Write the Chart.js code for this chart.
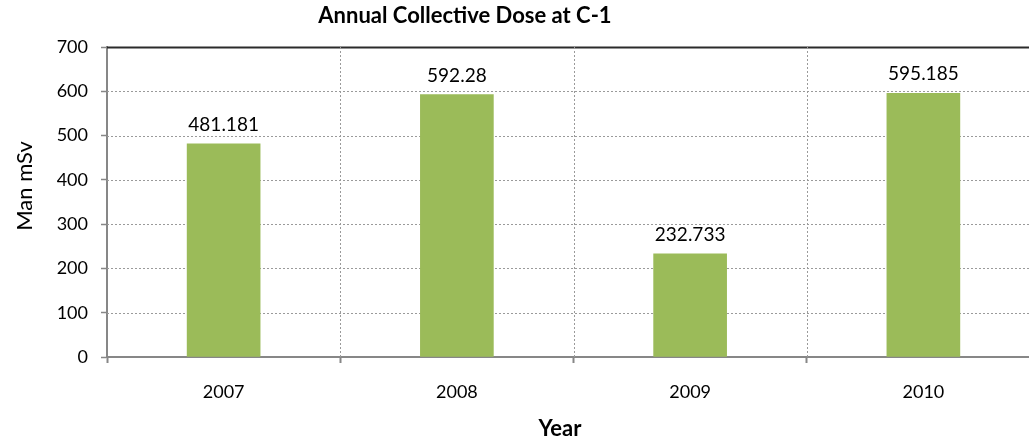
<!DOCTYPE html>
<html>
<head>
<meta charset="utf-8">
<script src="https://cdn.jsdelivr.net/npm/chart.js@4/dist/chart.umd.min.js"></script>
<style>
  html, body { margin: 0; padding: 0; background: #fff; overflow: hidden; }
  #wrap { position: relative; width: 1040px; height: 444px; }
</style>
</head>
<body>
<div id="wrap"><canvas id="c" width="1040" height="444"></canvas></div>
<script>
// Annual collective dose per year (Man mSv)
const years = ['2007', '2008', '2009', '2010'];
const doseValues = [481.181, 592.28, 232.733, 595.185];
const doseLabels = ['481.181', '592.28', '232.733', '595.185'];
const yMin = 0;
const yMax = 700;
const yStep = 100;
const chartTitle = 'Annual Collective Dose at C-1';
const xTitle = 'Year';
const yTitle = 'Man mSv';

const FONT = 'Lato, "Open Sans", sans-serif';
const AXIS_GREY = '#878787';
const GRID_GREY = '#9a9a9a';

// Dotted grid lines inside the plot, solid dark line along the top value
const gridPlugin = {
  id: 'dottedGrid',
  beforeDatasetsDraw(chart) {
    const { ctx, chartArea, scales } = chart;
    const ys = scales.y, xs = scales.x;
    ctx.save();
    ys.ticks.forEach(t => {
      if (t.value === yMin) return;
      const y = Math.round(ys.getPixelForValue(t.value)) + 0.5;
      ctx.beginPath();
      if (t.value === yMax) {
        ctx.setLineDash([]);
        ctx.strokeStyle = '#2b2b2b';
        ctx.lineWidth = 2;
      } else {
        ctx.setLineDash([2, 2]);
        ctx.strokeStyle = GRID_GREY;
        ctx.lineWidth = 1;
      }
      ctx.moveTo(chartArea.left, y);
      ctx.lineTo(chartArea.right, y);
      ctx.stroke();
    });
    ctx.setLineDash([2, 2]);
    ctx.strokeStyle = GRID_GREY;
    ctx.lineWidth = 1;
    for (let i = 1; i < years.length; i++) {
      const x = Math.round((xs.getPixelForValue(i - 1) + xs.getPixelForValue(i)) / 2) + 0.5;
      ctx.beginPath();
      ctx.moveTo(x, chartArea.top);
      ctx.lineTo(x, chartArea.bottom);
      ctx.stroke();
    }
    ctx.restore();
  }
};

// Value labels above bars, chart title and both axis titles
const textPlugin = {
  id: 'texts',
  afterDraw(chart) {
    const { ctx } = chart;
    const meta = chart.getDatasetMeta(0);
    ctx.save();
    ctx.fillStyle = '#000';
    ctx.textAlign = 'center';
    ctx.textBaseline = 'alphabetic';
    ctx.font = '19px ' + FONT;
    meta.data.forEach((bar, i) => {
      ctx.fillText(doseLabels[i], bar.x, bar.y - 13);
    });
    ctx.font = 'bold 22px ' + FONT;
    ctx.fillText(chartTitle, 465, 23);
    ctx.font = 'bold 22px ' + FONT;
    ctx.fillText(xTitle, 560, 436);
    ctx.translate(32, 186);
    ctx.rotate(-Math.PI / 2);
    ctx.font = '22px ' + FONT;
    ctx.fillText(yTitle, 0, 0);
    ctx.restore();
  }
};

new Chart(document.getElementById('c'), {
  type: 'bar',
  data: {
    labels: years,
    datasets: [{
      data: doseValues,
      backgroundColor: '#9BBB59',
      borderWidth: 0,
      barThickness: 73
    }]
  },
  options: {
    responsive: false,
    animation: false,
    events: [],
    layout: { padding: { top: 47, left: 0, right: 0, bottom: 0 } },
    plugins: {
      legend: { display: false },
      title: { display: false },
      tooltip: { enabled: false }
    },
    scales: {
      x: {
        offset: true,
        grid: {
          offset: true,
          drawOnChartArea: false,
          drawTicks: true,
          tickLength: 6,
          tickColor: AXIS_GREY,
          tickWidth: 2
        },
        border: { color: AXIS_GREY, width: 2 },
        ticks: { color: '#000', font: { family: FONT, size: 18 }, padding: 18 },
        afterFit(scale) { scale.height = 87; }
      },
      y: {
        min: yMin,
        max: yMax,
        ticks: { stepSize: yStep, color: '#000', font: { family: FONT, size: 18 }, padding: 13 },
        grid: {
          drawOnChartArea: false,
          drawTicks: true,
          tickLength: 6,
          tickColor: AXIS_GREY,
          tickWidth: 1.5
        },
        border: { color: AXIS_GREY, width: 2 },
        title: { display: false },
        afterFit(scale) { scale.width = 107; }
      }
    }
  },
  plugins: [gridPlugin, textPlugin]
});
</script>
</body>
</html>
